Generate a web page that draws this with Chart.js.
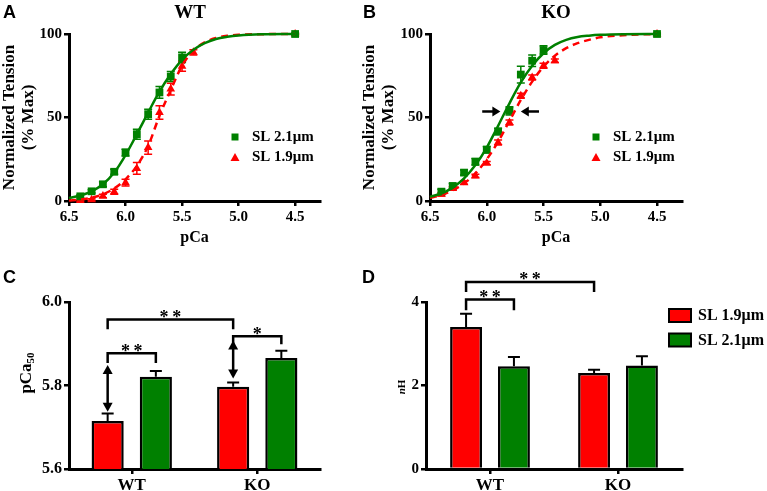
<!DOCTYPE html>
<html>
<head>
<meta charset="utf-8">
<script src="https://cdn.jsdelivr.net/npm/chart.js@4.4.1/dist/chart.umd.min.js"></script>
<style>
  html, body { margin: 0; padding: 0; background: #fff; }
  #figure { position: relative; width: 767px; height: 491px; overflow: hidden; }
  #figure canvas { position: absolute; }
</style>
</head>
<body>
<div id="figure">
  <canvas id="panelA" width="366" height="250" style="left:0px;top:0px"></canvas>
  <canvas id="panelB" width="390" height="250" style="left:360px;top:0px"></canvas>
  <canvas id="panelC" width="366" height="241" style="left:0px;top:250px"></canvas>
  <canvas id="panelD" width="407" height="241" style="left:360px;top:250px"></canvas>
</div>
<script>
// ---- data ----
var pcaTicks = [6.5, 6.0, 5.5, 5.0, 4.5];
var pcaLong = [6.4, 6.3, 6.2, 6.1, 6.0, 5.9, 5.8, 5.7, 5.6, 5.5, 4.5];
var pcaShort = [6.4, 6.3, 6.2, 6.1, 6.0, 5.9, 5.8, 5.7, 5.6, 5.5, 5.4, 4.5];

// panel A, WT (SL 2.1 = green squares, SL 1.9 = red triangles)
var wtLongMean = [2.8, 5.8, 10, 17.5, 29, 40, 52, 65, 74.5, 86, 100];
var wtLongSem = [1, 1, 1.5, 1.5, 2, 3, 3, 3.5, 3, 3, 0.5];
var wtShortMean = [0.3, 0.8, 3, 5.5, 11, 19.5, 32, 53, 67, 80.7, 89, 100];
var wtShortSem = [0.5, 0.5, 1, 1.5, 2, 3.5, 4, 4, 3.5, 3, 1.5, 0.5];

// panel B, KO
var koLongMean = [5.6, 9, 17, 23.5, 30.7, 41.6, 54, 75.7, 84, 90.4, 100];
var koLongSem = [1.5, 1.5, 1.5, 2, 2, 2, 2.5, 5, 3.5, 2.5, 0.5];
var koShortMean = [4, 7.5, 11, 15, 22.7, 35, 47, 63, 74, 81, 84, 100];
var koShortSem = [1, 1, 1, 1, 1, 1.5, 1.5, 1.5, 1.5, 1.5, 1, 0.5];

// fitted curves
var fitPca = [6.5, 6.4, 6.3, 6.2, 6.1, 6.0, 5.9, 5.8, 5.7, 5.6, 5.5, 5.4, 5.3, 5.2, 5.1, 5.0, 4.8, 4.5];
var wtLongFit = [1.8, 3.3, 5.8, 10, 17, 27.5, 40, 53, 65.5, 76, 84.5, 90.5, 94.5, 97, 98.3, 99.1, 99.8, 100];
var wtShortFit = [0.3, 0.8, 2, 4, 7.5, 13, 21, 33, 51, 66.5, 81, 90, 95, 97.6, 98.9, 99.5, 99.9, 100];
var koLongFit = [2.5, 4.5, 8, 13.5, 21.5, 32, 45, 58.5, 71, 81, 88.5, 93.5, 96.5, 98.2, 99, 99.5, 99.9, 100];
var koShortFit = [2, 3.5, 6.5, 10.5, 16.5, 25, 35.5, 48, 60.5, 71.5, 80.5, 87, 91.5, 94.5, 96.5, 98, 99.3, 100];

// arrows in panel B (pCa from -> to, at tension level)
var koArrowLevel = 53.6;
var koArrows = [[6.04, 5.88], [5.54, 5.70]];

// panels C and D
var groups = ['WT', 'KO'];
var pca50Ticks = [5.6, 5.8, 6.0];
var pca50Short = [5.715, 5.797];
var pca50ShortSem = [0.018, 0.010];
var pca50Long = [5.821, 5.866];
var pca50LongSem = [0.014, 0.017];
var nhTicks = [0, 2, 4];
var nhShort = [3.40, 2.30];
var nhShortSem = [0.32, 0.08];
var nhLong = [2.46, 2.48];
var nhLongSem = [0.22, 0.22];

var RED = '#ff0000';
var GREEN = '#008000';
var SERIF = '"Liberation Serif", "Times New Roman", serif';
var SANS = '"Liberation Sans", Arial, sans-serif';

Chart.defaults.font.family = SERIF;
Chart.defaults.font.weight = 'bold';
Chart.defaults.color = '#000';

function points(xs, ys) {
    return xs.map(function(x, i) { return { x: x, y: ys[i] }; });
}

function fixedTicks(values) {
    return function(scale) {
        scale.ticks = values.map(function(v) { return { value: v }; });
    };
}

function gridStyle() {
    return { drawOnChartArea: false, color: '#000', lineWidth: 2.5, tickLength: 5, offset: false };
}

function borderStyle() {
    return { color: '#000', width: 3 };
}

function tickStyle(digits, size) {
    return {
        color: '#000', font: { size: size, weight: 'bold' }, padding: 2, autoSkip: false, maxRotation: 0,
        callback: function(v) { return Number(v).toFixed(digits); }
    };
}

// error bars drawn through the dataset's own y scale
function drawErrors(chart, meta, ds) {
    var ctx = chart.ctx;
    var yScale = chart.scales[meta.yAxisID];
    ctx.save();
    ctx.strokeStyle = ds.errorColor;
    ctx.lineWidth = ds.errorWidth;
    meta.data.forEach(function(el, i) {
        var raw = ds.data[i];
        var v = typeof raw === 'object' ? raw.y : raw;
        var e = ds.errors[i];
        var top = yScale.getPixelForValue(v + e);
        var bottom = ds.errorsUpOnly ? el.y : yScale.getPixelForValue(v - e);
        ctx.beginPath();
        ctx.moveTo(el.x, bottom);
        ctx.lineTo(el.x, top);
        ctx.moveTo(el.x - ds.errorCap, top);
        ctx.lineTo(el.x + ds.errorCap, top);
        if (!ds.errorsUpOnly) {
            ctx.moveTo(el.x - ds.errorCap, bottom);
            ctx.lineTo(el.x + ds.errorCap, bottom);
        }
        ctx.stroke();
    });
    ctx.restore();
}

var errorBars = {
    id: 'errorBars',
    beforeDatasetDraw: function(chart, args) {
        var ds = chart.data.datasets[args.index];
        if (ds.errors && !ds.errorsUpOnly) drawErrors(chart, args.meta, ds);
    },
    afterDatasetDraw: function(chart, args) {
        var ds = chart.data.datasets[args.index];
        if (ds.errors && ds.errorsUpOnly) drawErrors(chart, args.meta, ds);
    }
};

function arrowHead(ctx, x, y, angle, len, half) {
    ctx.save();
    ctx.translate(x, y);
    ctx.rotate(angle);
    ctx.beginPath();
    ctx.moveTo(0, 0);
    ctx.lineTo(-len, -half);
    ctx.lineTo(-len, half);
    ctx.closePath();
    ctx.fill();
    ctx.restore();
}

// free text: panel letters, titles, rich axis titles
function textPlugin(items) {
    return {
        id: 'panelText',
        afterDraw: function(chart) {
            var ctx = chart.ctx;
            items.forEach(function(t) {
                ctx.save();
                ctx.fillStyle = '#000';
                ctx.textBaseline = 'middle';
                ctx.translate(t.x, t.y);
                if (t.rotate) ctx.rotate(t.rotate);
                var parts = t.parts || [{ text: t.text, font: t.font, dy: 0 }];
                var total = 0;
                parts.forEach(function(p) { ctx.font = p.font; total += ctx.measureText(p.text).width; });
                var x = t.align === 'left' ? 0 : -total / 2;
                ctx.textAlign = 'left';
                parts.forEach(function(p) {
                    ctx.font = p.font;
                    ctx.fillText(p.text, x, p.dy || 0);
                    x += ctx.measureText(p.text).width;
                });
                ctx.restore();
            });
        }
    };
}

// legend inside the plot area of A and B
function markerLegend(x, y, gap, textGap) {
    return {
        id: 'markerLegend',
        afterDraw: function(chart) {
            var ctx = chart.ctx;
            var items = chart.data.datasets.filter(function(d) { return d.legendRank; })
                .sort(function(a, b) { return a.legendRank - b.legendRank; });
            items.forEach(function(d, i) {
                var cy = y + i * gap;
                ctx.save();
                ctx.fillStyle = d.backgroundColor;
                ctx.beginPath();
                if (d.pointStyle === 'rect') {
                    ctx.rect(x - 3.5, cy - 3.5, 7, 7);
                } else {
                    ctx.moveTo(x, cy - 4.5);
                    ctx.lineTo(x + 4.5, cy + 3.5);
                    ctx.lineTo(x - 4.5, cy + 3.5);
                    ctx.closePath();
                }
                ctx.fill();
                ctx.fillStyle = '#000';
                ctx.font = 'bold 15px ' + SERIF;
                ctx.textBaseline = 'middle';
                ctx.textAlign = 'left';
                ctx.fillText(d.label, x + textGap, cy);
                ctx.restore();
            });
        }
    };
}

function horizontalArrows(level, pairs) {
    return {
        id: 'hArrows',
        afterDraw: function(chart) {
            var ctx = chart.ctx, xs = chart.scales.x, ys = chart.scales.y;
            var py = ys.getPixelForValue(level);
            ctx.save();
            ctx.strokeStyle = '#000';
            ctx.fillStyle = '#000';
            ctx.lineWidth = 2.5;
            pairs.forEach(function(p) {
                var x0 = xs.getPixelForValue(p[0]), x1 = xs.getPixelForValue(p[1]);
                var dir = x1 > x0 ? 1 : -1;
                ctx.beginPath();
                ctx.moveTo(x0, py);
                ctx.lineTo(x1 - dir * 6, py);
                ctx.stroke();
                arrowHead(ctx, x1, py, dir > 0 ? 0 : Math.PI, 8, 5);
            });
            ctx.restore();
        }
    };
}

// significance brackets between bars, and double-headed shift arrows
function barAnnotations(brackets, shifts) {
    return {
        id: 'barAnnotations',
        afterDatasetsDraw: function(chart) {
            var ctx = chart.ctx, ys = chart.scales.y;
            function barX(ref) { return chart.getDatasetMeta(ref[0]).data[ref[1]].x; }
            ctx.save();
            ctx.strokeStyle = '#000';
            ctx.fillStyle = '#000';
            ctx.lineWidth = 2.5;
            ctx.lineJoin = 'miter';
            brackets.forEach(function(b) {
                var x1 = barX(b.from), x2 = barX(b.to);
                var yl = ys.getPixelForValue(b.level), yd = ys.getPixelForValue(b.foot);
                ctx.beginPath();
                ctx.moveTo(x1, yd);
                ctx.lineTo(x1, yl);
                ctx.lineTo(x2, yl);
                ctx.lineTo(x2, yd);
                ctx.stroke();
                ctx.font = 'bold 18px ' + SERIF;
                ctx.textAlign = 'center';
                ctx.textBaseline = 'alphabetic';
                ctx.fillText(b.label, (x1 + x2) / 2, yl + 3.5);
            });
            shifts.forEach(function(s) {
                var x = barX(s.at);
                var yt = ys.getPixelForValue(s.top), yb = ys.getPixelForValue(s.bottom);
                ctx.beginPath();
                ctx.moveTo(x, yt + 7);
                ctx.lineTo(x, yb - 7);
                ctx.stroke();
                arrowHead(ctx, x, yt, -Math.PI / 2, 9, 5);
                arrowHead(ctx, x, yb, Math.PI / 2, 9, 5);
            });
            ctx.restore();
        }
    };
}

function boxLegend(x, y, gap) {
    return {
        id: 'boxLegend',
        afterDraw: function(chart) {
            var ctx = chart.ctx;
            chart.data.datasets.forEach(function(d, i) {
                var top = y + i * gap;
                ctx.save();
                ctx.fillStyle = d.backgroundColor;
                ctx.fillRect(x, top, 22, 13);
                ctx.strokeStyle = '#000';
                ctx.lineWidth = 2;
                ctx.strokeRect(x, top, 22, 13);
                ctx.fillStyle = '#000';
                ctx.font = 'bold 16px ' + SERIF;
                ctx.textBaseline = 'middle';
                ctx.fillText(d.label, x + 29, top + 7);
                ctx.restore();
            });
        }
    };
}

function tensionChart(id, cfg) {
    var datasets = [
        { type: 'line', label: 'fit 2.1', data: points(fitPca, cfg.longFit), borderColor: GREEN, borderWidth: 2.5,
          pointRadius: 0, cubicInterpolationMode: 'monotone', clip: false },
        { type: 'line', label: 'fit 1.9', data: points(fitPca, cfg.shortFit), borderColor: RED, borderWidth: 2.5,
          borderDash: [7, 5], pointRadius: 0, cubicInterpolationMode: 'monotone', clip: false },
        { type: 'line', label: 'SL 2.1\u03bcm', data: points(pcaLong, cfg.longMean), showLine: false,
          pointStyle: 'rect', pointRadius: 5.5, backgroundColor: GREEN, borderColor: GREEN, borderWidth: 0,
          errors: cfg.longSem, errorColor: GREEN, errorWidth: 1.5, errorCap: 4, legendRank: 1, clip: false },
        { type: 'line', label: 'SL 1.9\u03bcm', data: points(pcaShort, cfg.shortMean), showLine: false,
          pointStyle: 'triangle', pointRadius: 5, backgroundColor: RED, borderColor: RED, borderWidth: 0,
          errors: cfg.shortSem, errorColor: RED, errorWidth: 1.5, errorCap: 4, legendRank: 2, clip: false }
    ];
    var plugins = [errorBars, textPlugin(cfg.texts), markerLegend(cfg.legendX, 137, 20.5, 17)];
    if (cfg.arrows) plugins.push(horizontalArrows(koArrowLevel, cfg.arrows));
    return new Chart(document.getElementById(id), {
        type: 'line',
        data: { datasets: datasets },
        options: {
            responsive: false,
            animation: false,
            layout: { padding: { top: 34, left: 0, right: cfg.padRight, bottom: 0 } },
            plugins: { legend: { display: false }, tooltip: { enabled: false } },
            scales: {
                x: {
                    type: 'linear', reverse: true, min: 4.28, max: 6.5,
                    afterBuildTicks: fixedTicks(pcaTicks),
                    afterFit: function(s) { s.height = 49; },
                    grid: gridStyle(), border: borderStyle(), ticks: tickStyle(1, 15),
                    title: { display: true, text: 'pCa', color: '#000', font: { size: 16, weight: 'bold' },
                             padding: { top: 0, bottom: 3 } }
                },
                y: {
                    min: 0, max: 100,
                    afterBuildTicks: fixedTicks([0, 50, 100]),
                    afterFit: function(s) { s.width = cfg.axisLeft; },
                    grid: gridStyle(), border: borderStyle(), ticks: tickStyle(0, 15),
                    title: { display: true, text: ['Normalized Tension', '(% Max)'], color: '#000',
                             font: { size: 17, weight: 'bold', lineHeight: 1.12 }, padding: { top: 0, bottom: 0 } }
                }
            }
        },
        plugins: plugins
    });
}

function barChart(id, cfg) {
    return new Chart(document.getElementById(id), {
        type: 'bar',
        data: {
            labels: groups,
            datasets: [
                { label: 'SL 1.9\u03bcm', data: cfg.shortMean, backgroundColor: RED, borderColor: '#000', borderWidth: 2.5,
                  errors: cfg.shortSem, errorsUpOnly: true, errorColor: '#000', errorWidth: 2, errorCap: 6 },
                { label: 'SL 2.1\u03bcm', data: cfg.longMean, backgroundColor: GREEN, borderColor: '#000', borderWidth: 2.5,
                  errors: cfg.longSem, errorsUpOnly: true, errorColor: '#000', errorWidth: 2, errorCap: 6 }
            ]
        },
        options: {
            responsive: false,
            animation: false,
            categoryPercentage: cfg.catPct,
            barPercentage: 0.667,
            layout: { padding: { top: 52, left: 0, right: cfg.padRight, bottom: 0 } },
            plugins: { legend: { display: false }, tooltip: { enabled: false } },
            scales: {
                x: {
                    afterFit: function(s) { s.height = 22; },
                    grid: gridStyle(), border: borderStyle(),
                    ticks: { color: '#000', font: { size: 17, weight: 'bold' }, padding: 1 }
                },
                y: {
                    min: cfg.min, max: cfg.max,
                    afterBuildTicks: fixedTicks(cfg.ticks),
                    afterFit: function(s) { s.width = cfg.axisLeft; },
                    grid: gridStyle(), border: borderStyle(), ticks: tickStyle(cfg.digits, cfg.tickSize)
                }
            }
        },
        plugins: cfg.plugins
    });
}

var letterFont = 'bold 18px ' + SANS;
var titleFont = 'bold 19px ' + SERIF;
var stars = '*\u2009*';

tensionChart('panelA', {
    longMean: wtLongMean, longSem: wtLongSem, shortMean: wtShortMean, shortSem: wtShortSem,
    longFit: wtLongFit, shortFit: wtShortFit,
    axisLeft: 69, padRight: 46, legendX: 235,
    texts: [
        { text: 'A', x: 3, y: 13, font: letterFont, align: 'left' },
        { text: 'WT', x: 190, y: 13, font: titleFont }
    ]
});

tensionChart('panelB', {
    longMean: koLongMean, longSem: koLongSem, shortMean: koShortMean, shortSem: koShortSem,
    longFit: koLongFit, shortFit: koShortFit,
    axisLeft: 70, padRight: 68, legendX: 236, arrows: koArrows,
    texts: [
        { text: 'B', x: 3, y: 13, font: letterFont, align: 'left' },
        { text: 'KO', x: 196, y: 13, font: titleFont }
    ]
});

barChart('panelC', {
    shortMean: pca50Short, shortSem: pca50ShortSem, longMean: pca50Long, longSem: pca50LongSem,
    min: 5.6, max: 6.0, ticks: pca50Ticks, digits: 1, tickSize: 16,
    axisLeft: 69, padRight: 46, catPct: 0.768,
    plugins: [errorBars,
        barAnnotations([
            { from: [0, 0], to: [0, 1], level: 5.958, foot: 5.935, label: stars },
            { from: [0, 0], to: [1, 0], level: 5.877, foot: 5.854, label: stars },
            { from: [0, 1], to: [1, 1], level: 5.918, foot: 5.899, label: '*' }
        ], [
            { at: [0, 0], top: 5.849, bottom: 5.737 },
            { at: [0, 1], top: 5.908, bottom: 5.817 }
        ]),
        textPlugin([
            { text: 'C', x: 3, y: 28, font: letterFont, align: 'left' },
            { x: 27, y: 123, rotate: -Math.PI / 2, parts: [
                { text: 'pCa', font: 'bold 17px ' + SERIF, dy: 0 },
                { text: '50', font: 'bold 11px ' + SERIF, dy: 4 }
            ] }
        ])
    ]
});

barChart('panelD', {
    shortMean: nhShort, shortSem: nhShortSem, longMean: nhLong, longSem: nhLongSem,
    min: 0, max: 4, ticks: nhTicks, digits: 0, tickSize: 15,
    axisLeft: 66, padRight: 85, catPct: 0.748,
    plugins: [errorBars,
        barAnnotations([
            { from: [0, 0], to: [0, 1], level: 4.48, foot: 4.24, label: stars },
            { from: [0, 0], to: [1, 0], level: 4.06, foot: 3.80, label: stars }
        ], []),
        boxLegend(309, 59, 24.5),
        textPlugin([
            { text: 'D', x: 2, y: 28, font: letterFont, align: 'left' },
            { x: 42, y: 137, rotate: -Math.PI / 2, parts: [
                { text: 'n', font: 'italic bold 11px ' + SERIF, dy: 0 },
                { text: 'H', font: 'bold 11px ' + SERIF, dy: 0 }
            ] }
        ])
    ]
});
</script>
</body>
</html>
